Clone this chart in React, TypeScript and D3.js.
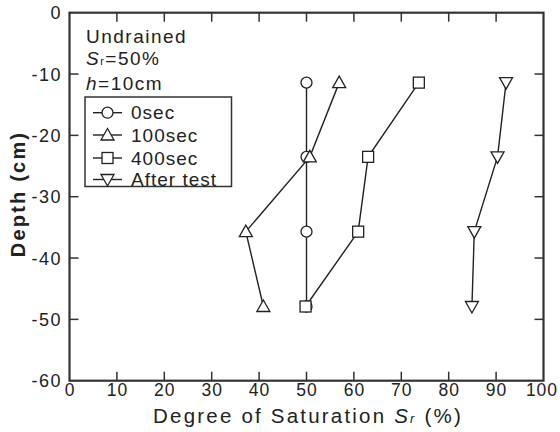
import React from "react";
import * as d3 from "d3";

const depths = [-11.4, -23.5, -35.7, -47.9];
const sec0 = [50, 50, 50, 50];
const sec100 = [56.9, 50.7, 37.2, 40.9];
const sec400 = [73.7, 63.0, 60.9, 49.8];
const afterTest = [92.1, 90.3, 85.4, 84.9];
const seriesNames = ["0sec", "100sec", "400sec", "After test"];
const xTicks = [0, 10, 20, 30, 40, 50, 60, 70, 80, 90, 100];
const yTicks = [0, -10, -20, -30, -40, -50, -60];

const W = 560, H = 432;
const m = { left: 69.5, right: 543.5, top: 12.7, bottom: 380.7 };
const font = "'Liberation Sans', Arial, sans-serif";

function Marker({ type, x, y }: { type: string; x: number; y: number }) {
  const st = { fill: "white", stroke: "#222", strokeWidth: 1.3 };
  if (type === "circle") return <circle cx={x} cy={y} r={5.5} {...st} />;
  if (type === "square") return <rect x={x - 5.5} y={y - 5.5} width={11} height={11} {...st} />;
  if (type === "up")
    return <path d={`M${x},${y - 6.5}L${x + 6.5},${y + 5}L${x - 6.5},${y + 5}Z`} {...st} />;
  return <path d={`M${x},${y + 6.5}L${x + 6.5},${y - 5}L${x - 6.5},${y - 5}Z`} {...st} />;
}

export default function App() {
  const x = d3.scaleLinear().domain([0, 100]).range([m.left, m.right]);
  const y = d3.scaleLinear().domain([0, -60]).range([m.top, m.bottom]);
  const line = d3.line<[number, number]>().x((d) => x(d[0])).y((d) => y(d[1]));
  const series = [
    { vals: sec0, type: "circle" },
    { vals: sec100, type: "up" },
    { vals: sec400, type: "square" },
    { vals: afterTest, type: "down" },
  ];
  const tickLen = 9;
  const legendY = [112.7, 135, 158, 179.5];
  const ls = 1;
  return (
    <svg width={W} height={H} style={{ position: "absolute", left: 0, top: 0, background: "white" }}>
      <rect width={W} height={H} fill="white" />
      {xTicks.slice(1, -1).map((t) => (
        <g key={"xt" + t} stroke="#333" strokeWidth={1.5}>
          <line x1={x(t)} x2={x(t)} y1={m.bottom} y2={m.bottom - tickLen} />
          <line x1={x(t)} x2={x(t)} y1={m.top} y2={m.top + tickLen} />
        </g>
      ))}
      {yTicks.slice(1, -1).map((t) => (
        <g key={"yt" + t} stroke="#333" strokeWidth={1.5}>
          <line x1={m.left} x2={m.left + tickLen} y1={y(t)} y2={y(t)} />
          <line x1={m.right} x2={m.right - tickLen} y1={y(t)} y2={y(t)} />
        </g>
      ))}
      <rect x={m.left} y={m.top} width={m.right - m.left} height={m.bottom - m.top} fill="none" stroke="#333" strokeWidth={2.2} />
      {xTicks.map((t) => (
        <text key={"xl" + t} x={t === 100 ? x(t) - 1.5 : x(t) + ls / 2} y={396} textAnchor="middle" fontFamily={font} fontSize={17.5} letterSpacing={ls} fill="#222">
          {t}
        </text>
      ))}
      {yTicks.map((t) => (
        <text key={"yl" + t} x={61 + ls} y={y(t) + 6.5} textAnchor="end" fontFamily={font} fontSize={18} letterSpacing={1.5} fill="#222">
          {t}
        </text>
      ))}
      <text x={308} y={423} textAnchor="middle" fontFamily={font} fontSize={20.5} letterSpacing={2.2} fill="#222">
        Degree of Saturation <tspan fontStyle="italic">S</tspan>
        <tspan fontStyle="italic" fontSize={13}>r</tspan> (%)
      </text>
      <text transform={`translate(25,${194}) rotate(-90)`} textAnchor="middle" fontFamily={font} fontSize={20} fontWeight="bold" letterSpacing={2.2} fill="#222">
        Depth (cm)
      </text>
      {series.map((s, i) => (
        <g key={"s" + i}>
          <path d={line(s.vals.map((v, j) => [v, depths[j]] as [number, number])) || ""} fill="none" stroke="#222" strokeWidth={1.4} />
        </g>
      ))}
      {series.map((s, i) => (
        <g key={"m" + i}>
          {s.vals.map((v, j) => (
            <Marker key={j} type={s.type} x={x(v)} y={y(depths[j])} />
          ))}
        </g>
      ))}
      <g fontFamily={font} fontSize={19} letterSpacing={1.5} fill="#222">
        <text x={86} y={43}>Undrained</text>
        <text x={86} y={65}>
          <tspan fontStyle="italic">S</tspan>
          <tspan fontSize={11}>r</tspan>=50%
        </text>
        <text x={86} y={90}>
          <tspan fontStyle="italic">h</tspan>=10cm
        </text>
      </g>
      <rect x={85} y={97} width={146.5} height={89.5} fill="white" stroke="#333" strokeWidth={1.5} />
      {series.map((s, i) => (
        <g key={"lg" + i}>
          <line x1={93} x2={122} y1={legendY[i]} y2={legendY[i]} stroke="#222" strokeWidth={1.4} />
          <Marker type={s.type} x={107.5} y={legendY[i]} />
          <text x={131} y={legendY[i] + 6.5} fontFamily={font} fontSize={19} letterSpacing={1} fill="#222">
            {seriesNames[i]}
          </text>
        </g>
      ))}
    </svg>
  );
}
